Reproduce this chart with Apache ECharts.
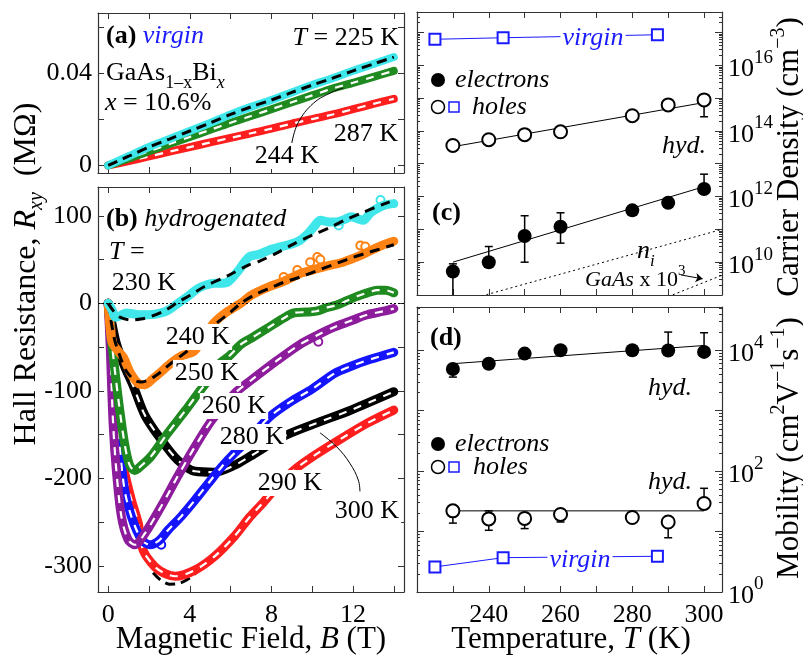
<!DOCTYPE html>
<html><head><meta charset="utf-8">
<script src="https://cdn.jsdelivr.net/npm/echarts@6/dist/echarts.min.js"></script>
<style>html,body{margin:0;padding:0;background:#fff}#c{width:803px;height:658px}</style>
</head><body><div id="c"></div>
<script>
// ---------------- DATA ----------------
// Panel (a): virgin, R_xy (MOhm) vs B (T)
const aField = [0,1,2,3,4,5,6,7,8,9,10,11,12,13,14];
const a225 = [0,0.0040,0.0080,0.0115,0.0150,0.0185,0.0222,0.0255,0.0285,0.0318,0.0350,0.0380,0.0412,0.0442,0.0472];
const a244 = [0,0.0030,0.0062,0.0093,0.0124,0.0155,0.0186,0.0215,0.0245,0.0275,0.0305,0.0335,0.0360,0.0386,0.0412];
const a287 = [0,0.0019,0.0039,0.0060,0.0080,0.0100,0.0120,0.0140,0.0160,0.0182,0.0202,0.0222,0.0245,0.0268,0.0290];
const aLeader = [[9.0,0.0097],[9.3,0.0184],[10.06,0.0271],[11.04,0.0322],[11.53,0.0337]];

// Panel (b): hydrogenated, R_xy vs B  [B, R]
const b230 = [[0,0],[0.2,-8],[0.35,-16],[0.6,-14],[0.9,-11],[1.2,-12],[1.6,-13],[2.0,-13],[2.6,-11],[3.0,-7],[3.3,-2],[3.6,3],[3.9,8],[4.4,17],[4.8,21],[5.2,23],[5.6,23],[5.9,25],[6.4,38],[6.9,53],[7.4,56],[7.9,61],[8.5,65],[9.0,68],[9.4,72],[9.8,80],[10.1,88],[10.4,95],[10.8,93],[11.2,93],[11.6,96],[11.9,99],[12.2,97],[12.5,95],[12.8,102],[13.0,106],[13.5,112],[14.0,114]];
const fit230 = [[0,0],[0.3,-10],[0.6,-16],[1.1,-19],[1.6,-18],[2.1,-15],[2.8,-8],[3.4,1],[4.0,9],[4.7,19],[5.9,32],[6.9,44],[7.4,48],[8.3,58],[9.1,68],[10.0,78],[10.9,87],[11.6,95],[12.4,103],[13.1,110],[13.8,116]];
const b240 = [[0,0],[0.1,-30],[0.2,-45],[0.5,-55],[0.75,-62],[1.1,-80],[1.5,-92],[1.8,-93],[2.2,-86],[2.6,-78],[3.1,-68],[3.6,-60],[4.2,-55],[4.7,-38],[5.2,-22],[5.8,-10],[6.5,0],[7.0,9],[7.9,19],[8.6,25],[9.4,34],[10.0,38],[10.6,42],[11.5,47],[12.4,55],[13.2,64],[13.6,68],[14.0,71]];
const fit240 = [[0,0],[0.3,-40],[0.6,-62],[0.9,-78],[1.3,-88],[1.6,-90],[2.1,-86],[2.6,-78],[3.0,-70],[3.4,-63],[4.0,-52],[4.6,-38],[5.3,-23],[6.0,-10],[6.5,0],[7.2,10],[8.0,18],[8.6,24],[9.4,30],[10.2,37],[11.0,44],[11.8,51],[12.6,57],[13.3,62],[14.0,67]];
const b250 = [[0,0],[0.2,-50],[0.5,-110],[0.8,-160],[1.05,-185],[1.3,-191],[1.7,-184],[2.1,-175],[2.9,-149],[3.8,-122],[4.4,-103],[4.9,-88],[5.5,-68],[5.9,-61],[6.5,-47],[7.0,-40],[7.9,-27],[8.6,-17],[9.1,-11],[9.7,-10],[10.2,-9],[10.7,-5],[11.2,-2],[11.7,3],[12.2,8],[12.7,12],[13.2,15],[13.6,15],[14.0,12]];
const b260 = [[0,0],[0.1,-50],[0.24,-137],[0.41,-194],[0.65,-244],[0.97,-270],[1.3,-276],[1.8,-263],[2.6,-232],[3.4,-198],[4.25,-164],[5.1,-133],[6.2,-103],[7.0,-88],[8.3,-65],[9.4,-47],[10.2,-37],[11.1,-27],[12.0,-19],[12.7,-13],[13.5,-9],[14.0,-6]];
const b280 = [[0,0],[0.3,-90],[0.55,-160],[0.8,-213],[1.14,-244],[1.63,-270],[2.04,-276],[2.5,-271],[2.94,-259],[3.6,-243],[4.25,-225],[4.9,-206],[5.56,-187],[6.2,-171],[6.87,-156],[7.9,-130],[8.9,-113],[10.0,-98],[11.1,-80],[12.0,-71],[12.85,-64],[14.0,-56]];
const b290 = [[0,0],[0.25,-60],[0.48,-156],[0.81,-194],[1.14,-225],[1.47,-251],[1.71,-282],[2.28,-301],[2.8,-309],[3.3,-312],[4.25,-305],[5.23,-289],[6.2,-266],[6.95,-244],[7.63,-227],[8.4,-206],[9.25,-188],[10.1,-174],[11.05,-160],[12.7,-137],[14.0,-122]];
const fit290low = [[2.2,-308],[2.6,-317],[3.0,-321],[3.5,-320],[4.0,-314],[4.4,-306]];
const b300 = [[0,0],[0.2,-25],[0.4,-46],[0.8,-72],[1.24,-95],[1.8,-128],[2.6,-156],[3.4,-179],[4.25,-192],[5.2,-193],[6.2,-185],[6.95,-175],[8.6,-152],[10.2,-137],[11.9,-122],[14.0,-101]];
const out230 = [[13.35,118],[11.3,89]];
const out240 = [[8.6,30],[9.27,38],[9.9,47],[10.25,53],[10.4,50],[12.36,66],[12.6,65]];
const out260 = [[10.3,-44]];
const out280 = [[2.6,-276]];
const bLeader = [[12.34,-215],[12.26,-202],[11.85,-183],[11.2,-164],[10.38,-148]];
const bLabels = [['230 K',144,283],['240 K',198,337],['250 K',207,373],['260 K',234,406],['280 K',252,437],['290 K',290,483],['300 K',367,511]];

// Panels (c),(d): temperature dependence
const tempsHyd = [230,240,250,260,280,290,300];
const tempsVirgin = [225,244,287];
const nElectrons = [5.2e9,1.0e10,6.3e10,1.2e11,3.8e11,6.5e11,1.7e12];
const nElecErrLow = [5e8,null,1.0e10,3.8e10,null,null,null];
const nElecErrHigh = [8.9e9,3.0e10,2.6e11,3.2e11,null,null,4.8e12];
const nHoles = [3.6e13,5.4e13,7.7e13,9.4e13,2.9e14,6.2e14,8.8e14];
const nHoleErrLow = [null,null,null,null,null,null,2.7e14];
const nHoleErrHigh = [null,null,null,null,null,null,null];
const nVirgin = [6.2e16,6.9e16,8.5e16];
const nElecFit = [[230,1.0e10],[300,2.0e12]];
const nHoleFit = [[230,3.3e13],[300,7.3e14]];
const niLine = [[238,9.3e8],[305,1.0e11]];
const niGaAs = [[290,8.9e8],[305,4.0e9]];
const arrowGaAs = [[293.5,4.1e9],[299.6,3.1e9]];

const muElectrons = [4.9e3,6.0e3,8.8e3,1.0e4,1.0e4,9.9e3,9.4e3];
const muElecErrLow = [3.6e3,null,null,null,null,null,null];
const muElecErrHigh = [null,null,null,null,null,2.0e4,1.95e4];
const muHoles = [22,16.2,16.5,19.2,17.1,14.4,29.2];
const muHoleErrLow = [13.8,10.5,11.2,14.4,null,7.9,null];
const muHoleErrHigh = [null,22,null,null,null,null,52];
const muVirgin = [2.6,3.7,3.9];
const muElecFit = [[230,6.0e3],[300,1.2e4]];
const muHoleFit = [[230,22],[300,22]];

// tick values
const bTicks = [0,2,4,6,8,10,12,14];
const bLabelVals = [0,4,8,12];
const aYTicks = [0,0.02,0.04,0.06];
const aYLabels = [0,0.04];
const rTicks = [-300,-250,-200,-150,-100,-50,0,50,100];
const rLabels = [-300,-200,-100,0,100];
const tTicks = [230,240,250,260,270,280,290,300];
const tLabels = [240,260,280,300];
const nDecades = [9,10,11,12,13,14,15,16,17];
const nLabelExp = [10,12,14,16];
const muDecades = [0,1,2,3,4];
const muLabelExp = [0,2,4];

// ---------------- HELPERS ----------------
const FONT = 'Liberation Serif';
const C = {cyan:'#3fe6ea', orange:'#ff8214', green:'#1f8a1f', purple:'#8c1c9c', blue:'#1414ff', black:'#000', red:'#ff1e1e', vblue:'#1a1aff'};
const decVals = ex => ex.map(e => Math.pow(10, e));
const minorVals = ex => { const r = []; ex.forEach(e => { for (let k = 2; k <= 9; k++) r.push(k * Math.pow(10, e)); }); return r; };

function axis(o) {
  return {
    type: o.type || 'value', gridIndex: o.grid, position: o.pos, min: o.min, max: o.max, logBase: 10,
    axisLine: {show: o.line !== false, onZero: false, lineStyle: {color: '#333', width: 1.2}},
    splitLine: {show: false}, minorTick: {show: false},
    axisTick: {show: true, inside: true, length: o.len || 6, customValues: o.ticks, lineStyle: {color: '#333', width: 1}},
    axisLabel: o.labels ? {show: true, customValues: o.labels, formatter: o.fmt, fontFamily: FONT, fontSize: 26, color: '#000', margin: o.margin || 6, rich: o.rich} : {show: false}
  };
}
const logFmt = v => '{n|10}{e|' + Math.round(Math.log10(v)) + '}';
const logRich = {n: {fontFamily: FONT, fontSize: 26, color: '#000', lineHeight: 34, verticalAlign: 'bottom'}, e: {fontFamily: FONT, fontSize: 19, color: '#000', verticalAlign: 'top', lineHeight: 34}};

const cv = document.createElement('canvas').getContext('2d');
function fontStr(p) { return (p.it ? 'italic ' : '') + (p.b ? 'bold ' : '') + (p.s || 26) + 'px "' + FONT + '"'; }
function comp(x, y, parts, opt) {
  opt = opt || {};
  let w = 0; const ws = parts.map(p => { cv.font = fontStr(p); const m = cv.measureText(p.t).width; w += m; return m; });
  let off = opt.align === 'center' ? -w / 2 : (opt.align === 'right' ? -w : 0);
  const children = parts.map((p, i) => { const el = {type: 'text', x: off, y: p.dy || 0, style: {text: p.t, font: fontStr(p), fill: p.c || '#000', align: 'left', verticalAlign: 'middle'}}; off += ws[i]; return el; });
  return {type: 'group', x: x, y: y, rotation: opt.rot || 0, z: 100, children: children};
}
function boxText(t, x, y, color, italic) {
  return {type: 'text', x: x, y: y, z: 90, style: {text: t, font: (italic ? 'italic ' : '') + '26px "' + FONT + '"', fill: color || '#000', align: 'center', verticalAlign: 'middle', backgroundColor: '#fff', padding: [0, 2]}};
}
function errData(ts, vals, lo, hi) { return ts.map((t, i) => [t, vals[i], lo[i] == null ? '-' : lo[i], hi[i] == null ? '-' : hi[i]]); }
function errRender(params, api) {
  const x = api.value(0), v = api.value(1), lo = api.value(2), hi = api.value(3);
  const pv = api.coord([x, v]); const ch = []; const st = {stroke: '#000', lineWidth: 1.5};
  [lo, hi].forEach(e => { if (!isNaN(e) && e > 0) { const p = api.coord([x, e]);
    ch.push({type: 'line', shape: {x1: pv[0], y1: pv[1], x2: p[0], y2: p[1]}, style: st});
    ch.push({type: 'line', shape: {x1: p[0] - 4, y1: p[1], x2: p[0] + 4, y2: p[1]}, style: st}); } });
  return {type: 'group', children: ch};
}
function band(data, color, xi, yi, w) { return {type: 'line', data: data, xAxisIndex: xi, yAxisIndex: yi, showSymbol: false, smooth: 0.3, lineStyle: {color: color, width: w || 9, cap: 'round', join: 'round'}, silent: true}; }
function dash(data, color, xi, yi, w, pat) { return {type: 'line', data: data, xAxisIndex: xi, yAxisIndex: yi, showSymbol: false, smooth: 0.3, lineStyle: {color: color, width: w || 2.5, type: pat || [9, 7], cap: 'butt'}, silent: true}; }
function thin(data, color, xi, yi, type, smooth) { return {type: 'line', data: data, xAxisIndex: xi, yAxisIndex: yi, showSymbol: false, smooth: smooth || false, lineStyle: {color: color, width: 1, type: type || 'solid'}, silent: true}; }
function outl(data, color) { return {type: 'scatter', data: data, xAxisIndex: 2, yAxisIndex: 2, symbol: 'emptyCircle', symbolSize: 8, itemStyle: {color: color, borderWidth: 1, opacity: 1}, silent: true}; }
const pairs = (xs, ys) => xs.map((x, i) => [x, ys[i]]);
function marks(xi, yi, data, filled) {
  return {type: 'scatter', xAxisIndex: xi, yAxisIndex: yi, data: data, symbol: filled ? 'circle' : 'emptyCircle', symbolSize: filled ? 14 : 13,
    itemStyle: filled ? {color: '#000', opacity: 1} : {color: '#000', borderColor: '#000', borderWidth: 1.5, opacity: 1}, silent: true, z: 5};
}
function virgin(xi, yi, data) {
  return {type: 'line', xAxisIndex: xi, yAxisIndex: yi, data: data, symbol: 'emptyRect', symbolSize: 11, lineStyle: {color: C.vblue, width: 1}, itemStyle: {color: C.vblue, borderWidth: 1.5, opacity: 1}, silent: true, z: 5};
}

// ---------------- OPTION ----------------
const option = {
  animation: false, backgroundColor: '#fff',
  grid: [
    {left: 98, top: 13, width: 306, height: 160},
    {left: 98, top: 187, width: 306, height: 405},
    {left: 417, top: 12, width: 305, height: 283},
    {left: 417, top: 307, width: 305, height: 285}
  ],
  xAxis: [
    axis({grid: 0, pos: 'bottom', min: -0.5, max: 14.5, ticks: bTicks}),
    axis({grid: 0, pos: 'top', min: -0.5, max: 14.5, ticks: bTicks}),
    axis({grid: 1, pos: 'bottom', min: -0.5, max: 14.5, ticks: bTicks, labels: bLabelVals, margin: 10}),
    axis({grid: 1, pos: 'top', min: -0.5, max: 14.5, ticks: bTicks}),
    axis({grid: 2, pos: 'bottom', min: 220, max: 305, ticks: tTicks}),
    axis({grid: 2, pos: 'top', min: 220, max: 305, ticks: tTicks}),
    axis({grid: 3, pos: 'bottom', min: 220, max: 305, ticks: tTicks, labels: tLabels, margin: 10}),
    axis({grid: 3, pos: 'top', min: 220, max: 305, ticks: tTicks})
  ],
  yAxis: [
    axis({grid: 0, pos: 'left', min: -0.0033, max: 0.0664, ticks: aYTicks, labels: aYLabels, fmt: v => v === 0 ? '0' : v.toFixed(2)}),
    axis({grid: 0, pos: 'right', min: -0.0033, max: 0.0664, ticks: aYTicks}),
    axis({grid: 1, pos: 'left', min: -330, max: 133, ticks: rTicks, labels: rLabels, fmt: v => String(v)}),
    axis({grid: 1, pos: 'right', min: -330, max: 133, ticks: rTicks}),
    axis({grid: 2, type: 'log', pos: 'right', min: 1e9, max: 4.2e17, ticks: decVals(nDecades), labels: decVals(nLabelExp), fmt: logFmt, rich: logRich, len: 7}),
    axis({grid: 2, type: 'log', pos: 'right', min: 1e9, max: 4.2e17, ticks: minorVals(nDecades.concat([8])), len: 3, line: false}),
    axis({grid: 2, type: 'log', pos: 'left', min: 1e9, max: 4.2e17, ticks: decVals(nDecades), len: 7}),
    axis({grid: 2, type: 'log', pos: 'left', min: 1e9, max: 4.2e17, ticks: minorVals(nDecades.concat([8])), len: 3, line: false}),
    axis({grid: 3, type: 'log', pos: 'right', min: 1, max: 5.2e4, ticks: decVals(muDecades), labels: decVals(muLabelExp), fmt: logFmt, rich: logRich, len: 7}),
    axis({grid: 3, type: 'log', pos: 'right', min: 1, max: 5.2e4, ticks: minorVals(muDecades), len: 3, line: false}),
    axis({grid: 3, type: 'log', pos: 'left', min: 1, max: 5.2e4, ticks: decVals(muDecades), len: 7}),
    axis({grid: 3, type: 'log', pos: 'left', min: 1, max: 5.2e4, ticks: minorVals(muDecades), len: 3, line: false})
  ],
  series: [
    // ---- (a)
    band(pairs(aField, a287), C.red, 0, 0, 8), dash(pairs(aField, a287), '#fff', 0, 0, 2.2, [8, 8]),
    band(pairs(aField, a244), C.green, 0, 0, 8), dash(pairs(aField, a244), '#fff', 0, 0, 2.2, [8, 8]),
    band(pairs(aField, a225), C.cyan, 0, 0, 8), dash(pairs(aField, a225), '#000', 0, 0, 3, [10, 6]),
    thin(aLeader, '#000', 0, 0, 'solid', 0.4),
    // ---- (b)
    {type: 'line', data: [], xAxisIndex: 2, yAxisIndex: 2, silent: true, markLine: {silent: true, symbol: ['none', 'none'], label: {show: false}, lineStyle: {color: '#000', width: 1, type: [2, 2]}, data: [{yAxis: 0}]}},
    dash(fit290low, '#000', 2, 2, 3, [10, 6]),
    band(b300, C.black, 2, 2), dash(b300, '#fff', 2, 2, 2.2, [8, 8]),
    band(b290, C.red, 2, 2), dash(b290, '#fff', 2, 2, 2.2, [8, 8]),
    band(b280, C.blue, 2, 2), dash(b280, '#fff', 2, 2, 2.2, [8, 8]), outl(out280, C.blue),
    band(b260, C.purple, 2, 2), dash(b260, '#fff', 2, 2, 2.2, [8, 8]), outl(out260, C.purple),
    band(b250, C.green, 2, 2), dash(b250, '#fff', 2, 2, 2.2, [8, 8]),
    band(b240, C.orange, 2, 2), outl(out240, C.orange), dash(fit240, '#000', 2, 2, 3, [10, 7]),
    band(b230, C.cyan, 2, 2), outl(out230, C.cyan), dash(fit230, '#000', 2, 2, 3, [10, 7]),
    thin(bLeader, '#000', 2, 2, 'solid', 0.4),
    // ---- (c)
    thin(niLine, '#000', 4, 4, [2, 3]),
    Object.assign(thin(niGaAs, '#000', 4, 4, [2, 3]), {markLine: {silent: true, symbol: ['none', 'arrow'], symbolSize: 7, label: {show: false}, lineStyle: {color: '#000', width: 1, type: 'solid'}, data: [[{coord: arrowGaAs[0]}, {coord: arrowGaAs[1]}]]}}),
    thin(nElecFit, '#000', 4, 4), thin(nHoleFit, '#000', 4, 4),
    {type: 'custom', xAxisIndex: 4, yAxisIndex: 4, renderItem: errRender, data: errData(tempsHyd, nElectrons, nElecErrLow, nElecErrHigh), clip: true, silent: true, z: 3},
    {type: 'custom', xAxisIndex: 4, yAxisIndex: 4, renderItem: errRender, data: errData(tempsHyd, nHoles, nHoleErrLow, nHoleErrHigh), clip: true, silent: true, z: 3},
    marks(4, 4, pairs(tempsHyd, nElectrons), true),
    marks(4, 4, pairs(tempsHyd, nHoles), false),
    virgin(4, 4, pairs(tempsVirgin, nVirgin)),
    // ---- (d)
    thin(muElecFit, '#000', 6, 8), thin(muHoleFit, '#000', 6, 8),
    {type: 'custom', xAxisIndex: 6, yAxisIndex: 8, renderItem: errRender, data: errData(tempsHyd, muElectrons, muElecErrLow, muElecErrHigh), clip: true, silent: true, z: 3},
    {type: 'custom', xAxisIndex: 6, yAxisIndex: 8, renderItem: errRender, data: errData(tempsHyd, muHoles, muHoleErrLow, muHoleErrHigh), clip: true, silent: true, z: 3},
    marks(6, 8, pairs(tempsHyd, muElectrons), true),
    marks(6, 8, pairs(tempsHyd, muHoles), false),
    virgin(6, 8, pairs(tempsVirgin, muVirgin))
  ],
  graphic: []
};

const g = option.graphic;
// (a)
g.push(comp(106, 36, [{t: '(a)', b: 1}, {t: ' '}, {t: 'virgin', it: 1, c: C.vblue}]));
g.push(comp(399, 38, [{t: 'T', it: 1}, {t: ' = 225 K'}], {align: 'right'}));
g.push(comp(106, 73, [{t: 'GaAs'}, {t: '1–x', s: 18, dy: 10}, {t: 'Bi'}, {t: 'x', s: 18, it: 1, dy: 10}]));
g.push(comp(105, 103, [{t: 'x', it: 1}, {t: ' = 10.6%'}]));
g.push(boxText('287 K', 366, 134)); g.push(boxText('244 K', 287, 156));
// (b)
g.push(comp(106, 219, [{t: '(b)', b: 1}, {t: ' '}, {t: 'hydrogenated', it: 1}]));
g.push(comp(109, 252, [{t: 'T', it: 1}, {t: ' ='}]));
bLabels.forEach(l => g.push(boxText(l[0], l[1], l[2])));
// (c)
g.push(comp(432, 213, [{t: '(c)', b: 1}]));
g.push(comp(662, 146, [{t: 'hyd.', it: 1}]));
g.push({type: 'circle', z: 100, shape: {cx: 438, cy: 80, r: 7}, style: {fill: '#000'}});
g.push(comp(455, 80, [{t: 'electrons', it: 1}]));
g.push({type: 'circle', z: 100, shape: {cx: 438, cy: 107, r: 6.5}, style: {fill: '#fff', stroke: '#000', lineWidth: 1.5}});
g.push({type: 'rect', z: 100, shape: {x: 449, y: 102, width: 10, height: 10}, style: {fill: '#fff', stroke: C.vblue, lineWidth: 1.5}});
g.push(comp(472, 107, [{t: 'holes', it: 1}]));
g.push(boxText('virgin', 593, 38, C.vblue, true));
g.push(comp(637, 251, [{t: 'n', it: 1}, {t: 'i', it: 1, s: 17, dy: 11}]));
g.push(comp(585, 280, [{t: 'GaAs', it: 1, s: 22}, {t: ' x 10', s: 22}, {t: '3', s: 15, dy: -9}]));
// (d)
g.push(comp(430, 338, [{t: '(d)', b: 1}]));
g.push(comp(648, 388, [{t: 'hyd.', it: 1}]));
g.push(comp(648, 482, [{t: 'hyd.', it: 1}]));
g.push({type: 'circle', z: 100, shape: {cx: 438, cy: 444, r: 7}, style: {fill: '#000'}});
g.push(comp(455, 444, [{t: 'electrons', it: 1}]));
g.push({type: 'circle', z: 100, shape: {cx: 438, cy: 467, r: 6.5}, style: {fill: '#fff', stroke: '#000', lineWidth: 1.5}});
g.push({type: 'rect', z: 100, shape: {x: 449, y: 462, width: 10, height: 10}, style: {fill: '#fff', stroke: C.vblue, lineWidth: 1.5}});
g.push(comp(473, 467, [{t: 'holes', it: 1}]));
g.push(boxText('virgin', 580, 560, C.vblue, true));
// titles
g.push(comp(251, 640, [{t: 'Magnetic Field, ', s: 31}, {t: 'B', it: 1, s: 31}, {t: ' (T)', s: 31}], {align: 'center'}));
g.push(comp(571, 640, [{t: 'Temperature, ', s: 31}, {t: 'T', it: 1, s: 31}, {t: ' (K)', s: 31}], {align: 'center'}));
g.push(comp(27, 274, [{t: 'Hall Resistance, ', s: 32}, {t: 'R', it: 1, s: 32}, {t: 'xy', it: 1, s: 20, dy: 10}, {t: '  (MΩ)', s: 32}], {align: 'center', rot: Math.PI / 2}));
g.push(comp(790, 157, [{t: 'Carrier Density (cm', s: 31}, {t: '−3', s: 20, dy: -11}, {t: ')', s: 31}], {align: 'center', rot: Math.PI / 2}));
g.push(comp(790, 448, [{t: 'Mobility (cm', s: 31}, {t: '2', s: 20, dy: -11}, {t: 'V', s: 31}, {t: '−1', s: 20, dy: -11}, {t: 's', s: 31}, {t: '−1', s: 20, dy: -11}, {t: ')', s: 31}], {align: 'center', rot: Math.PI / 2}));

const chart = echarts.init(document.getElementById('c'), null, {renderer: 'canvas'});
chart.setOption(option);
</script></body></html>
